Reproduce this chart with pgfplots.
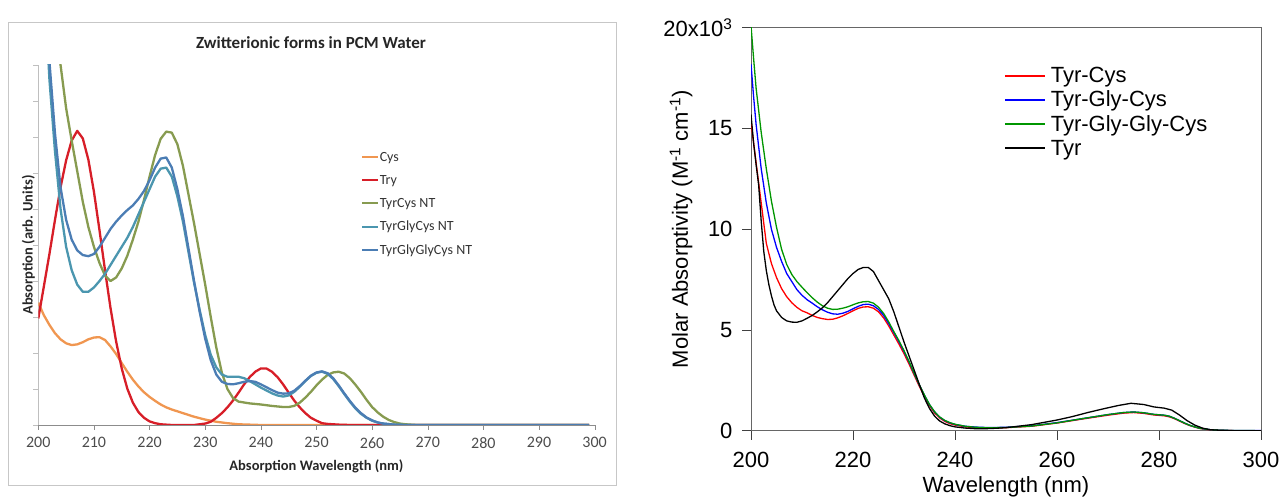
\documentclass[border=0pt]{standalone}
\usepackage{pgfplots}
\pgfplotsset{compat=1.18}
\usepackage{fontspec}
\setmainfont{Liberation Sans}
\newfontfamily\calibri{Carlito}
\definecolor{cysC}{RGB}{240,150,80}
\definecolor{tryC}{RGB}{215,30,40}
\definecolor{tyrcysC}{RGB}{135,155,80}
\definecolor{tgcC}{RGB}{75,150,175}
\definecolor{tggcC}{RGB}{75,125,180}
\definecolor{greenR}{RGB}{0,150,0}
\begin{document}
\begin{tikzpicture}[x=1pt,y=1pt]
\path[use as bounding box] (0,0) rectangle (1281,500);
\draw[black!22, line width=1pt] (8,14) rectangle (616,477);
\node[font=\calibri\bfseries\fontsize{17}{17}\selectfont, text=black!85] at (311,457) {Zwitterionic forms in PCM Water};
\begin{axis}[
  at={(38.3pt,75pt)}, anchor=south west, scale only axis,
  width=556.3pt, height=360pt,
  xmin=200, xmax=300, ymin=0, ymax=10,
  axis lines=left, axis line style={-},
  x axis line style={draw=black!45},
  y axis line style={draw=black!25},
  xtick={200,210,...,300}, ytick={0,1,...,10}, yticklabels={},
  tick align=outside, major tick length=5pt,
  x tick style={black!45}, y tick style={black!25},
  /pgf/number format/assume math mode=true,
  xticklabel style={font=\calibri\fontsize{16}{16}\selectfont, text=black!70, yshift=-4pt},
  xlabel={Absorption Wavelength (nm)},
  ylabel={Absorption (arb. Units)},
  xlabel style={at={(axis description cs:0.5,-0.114)}, anchor=center, font=\calibri\bfseries\fontsize{14.5}{14.5}\selectfont, text=black!85},
  ylabel style={at={(axis description cs:-0.018,0.5)}, anchor=center, font=\calibri\bfseries\fontsize{14.5}{14.5}\selectfont, text=black!85},
  legend cell align=left,
  legend image code/.code={\fill[#1, draw=none] (0pt,-1pt) rectangle (16pt,1pt);},
  legend style={at={(rel axis cs:0.582,0.763)}, anchor=north west, draw=none, fill=none,
    font=\calibri\fontsize{14}{14}\selectfont, text=black!80, row sep=9.5pt,
    inner sep=0pt, nodes={inner sep=1.5pt}},
  every axis plot/.append style={line width=2.3pt, line join=round},
]
\addplot[cysC] coordinates {(200,3.4)(201,3.05)(202,2.78)(203,2.55)(204,2.38)(205,2.27)(206,2.22)(207,2.24)(208,2.3)(209,2.38)(210,2.43)(211,2.44)(212,2.36)(213,2.18)(214,1.97)(215,1.72)(216,1.48)(217,1.26)(218,1.07)(219,0.91)(220,0.78)(221,0.67)(222,0.57)(223,0.49)(224,0.43)(225,0.38)(226,0.33)(227,0.28)(228,0.23)(229,0.19)(230,0.15)(232,0.09)(234,0.05)(236,0.02)(238,0.01)(240,0)(299,0)};
\addlegendentry{Cys}
\addplot[tryC] coordinates {(200,2.96)(201,3.85)(202,4.75)(203,5.7)(204,6.6)(205,7.35)(206,7.9)(207,8.17)(208,7.96)(209,7.37)(210,6.48)(211,5.41)(212,4.29)(213,3.23)(214,2.31)(215,1.57)(216,1.01)(217,0.62)(218,0.36)(219,0.2)(220,0.1)(221,0.05)(222,0.02)(224,0)(228,0)(229,0.02)(230,0.04)(231,0.09)(232,0.2)(233,0.33)(234,0.49)(235,0.68)(236,0.9)(237,1.13)(238,1.33)(239,1.48)(240,1.57)(241,1.57)(242,1.48)(243,1.33)(244,1.13)(245,0.9)(246,0.68)(247,0.49)(248,0.33)(249,0.2)(250,0.12)(251,0.05)(252,0.03)(254,0.01)(256,0)(299,0)};
\addlegendentry{Try}
\addplot[tyrcysC] coordinates {(200,16)(202,12.4)(203,11.0)(204,10.0)(205,8.8)(206,7.9)(207,7.05)(208,6.2)(209,5.5)(210,4.95)(211,4.5)(212,4.15)(213,4.0)(214,4.1)(215,4.35)(216,4.7)(217,5.15)(218,5.65)(219,6.25)(220,6.9)(221,7.5)(222,7.95)(223,8.15)(224,8.12)(225,7.8)(226,7.2)(227,6.4)(228,5.6)(229,4.75)(230,3.9)(231,3.0)(232,2.15)(233,1.45)(234,1.0)(235,0.75)(236,0.65)(238,0.6)(240,0.57)(242,0.53)(244,0.5)(245,0.5)(246,0.53)(247,0.62)(248,0.76)(249,0.92)(250,1.1)(251,1.26)(252,1.39)(253,1.46)(254,1.48)(255,1.43)(256,1.3)(257,1.12)(258,0.92)(259,0.7)(260,0.5)(261,0.35)(262,0.23)(263,0.14)(264,0.08)(265,0.04)(266,0.02)(268,0)(299,0)};
\addlegendentry{TyrCys NT}
\addplot[tgcC] coordinates {(200,16)(201,12.5)(202,9.6)(203,7.6)(204,6.0)(205,4.95)(206,4.3)(207,3.9)(208,3.7)(209,3.7)(210,3.82)(211,4.0)(212,4.2)(213,4.45)(214,4.7)(215,4.95)(216,5.2)(217,5.5)(218,5.85)(219,6.2)(220,6.55)(221,6.9)(222,7.12)(223,7.15)(224,6.9)(225,6.35)(226,5.65)(227,4.8)(228,3.95)(229,3.2)(230,2.5)(231,1.95)(232,1.6)(233,1.4)(234,1.34)(235,1.34)(236,1.34)(237,1.3)(238,1.22)(239,1.13)(240,1.04)(241,0.96)(242,0.88)(243,0.82)(244,0.79)(245,0.82)(246,0.92)(247,1.06)(248,1.22)(249,1.36)(250,1.45)(251,1.48)(252,1.42)(253,1.28)(254,1.08)(255,0.86)(256,0.65)(257,0.46)(258,0.31)(259,0.2)(260,0.12)(261,0.07)(262,0.04)(264,0.01)(266,0)(299,0)};
\addlegendentry{TyrGlyCys NT}
\addplot[tggcC] coordinates {(200,16)(201,12.8)(202,10.1)(203,8.1)(204,6.6)(205,5.7)(206,5.15)(207,4.85)(208,4.72)(209,4.69)(210,4.75)(211,4.95)(212,5.2)(213,5.45)(214,5.65)(215,5.82)(216,5.97)(217,6.1)(218,6.28)(219,6.5)(220,6.8)(221,7.15)(222,7.4)(223,7.43)(224,7.15)(225,6.55)(226,5.8)(227,4.9)(228,4.0)(229,3.15)(230,2.4)(231,1.8)(232,1.4)(233,1.2)(234,1.14)(235,1.13)(236,1.16)(237,1.2)(238,1.22)(239,1.2)(240,1.13)(241,1.05)(242,0.97)(243,0.9)(244,0.87)(245,0.88)(246,0.95)(247,1.08)(248,1.23)(249,1.37)(250,1.46)(251,1.49)(252,1.44)(253,1.3)(254,1.1)(255,0.88)(256,0.67)(257,0.48)(258,0.33)(259,0.21)(260,0.13)(261,0.07)(262,0.04)(264,0.01)(266,0)(299,0)};
\addlegendentry{TyrGlyGlyCys NT}
\end{axis}
\begin{axis}[
  at={(751pt,69.3pt)}, anchor=south west, scale only axis,
  width=510pt, height=403pt,
  xmin=200, xmax=300, ymin=0, ymax=20,
  axis line style={black!60},
  xtick={200,220,...,300}, ytick={0,5,10,15,20},
  yticklabels={0,5,10,15,{20x10\textsuperscript{3}}},
  tick align=outside, tick pos=left, major tick length=9pt,
  tick style={black!75, line width=0.8pt},
  /pgf/number format/assume math mode=true,
  ticklabel style={font=\fontsize{22}{22}\selectfont},
  xticklabel style={yshift=-9pt},
  yticklabel style={xshift=-6pt},
  xlabel={Wavelength (nm)},
  ylabel={Molar Absorptivity (M\textsuperscript{-1} cm\textsuperscript{-1})},
  xlabel style={at={(axis description cs:0.5,-0.139)}, anchor=center, font=\fontsize{22}{22}\selectfont},
  ylabel style={at={(axis description cs:-0.137,0.5)}, anchor=center, font=\fontsize{22}{22}\selectfont},
  legend cell align=left,
  legend image code/.code={\fill[#1, draw=none] (0pt,-1.1pt) rectangle (40pt,1.1pt); \path (44pt,0pt);},
  legend style={at={(rel axis cs:0.498,0.905)}, anchor=north west, draw=none, fill=none,
    font=\fontsize{22}{22}\selectfont, row sep=5pt,
    inner sep=0pt, nodes={inner sep=1pt}},
  every axis plot/.append style={line width=1.3pt, line join=round},
]
\addplot[red] coordinates {(200,15.3)(200.5,14.3)(201,13.3)(202,11.3)(203,9.3)(204,8.3)(205,7.6)(206,7.05)(207,6.65)(208,6.35)(209,6.12)(210,5.95)(211,5.85)(212,5.72)(213,5.62)(214,5.56)(215,5.52)(216,5.53)(217,5.6)(218,5.7)(219,5.82)(220,5.95)(221,6.07)(222,6.14)(223,6.15)(224,6.08)(225,5.9)(226,5.6)(227,5.2)(228,4.75)(229,4.3)(230,3.82)(231,3.3)(232,2.75)(233,2.2)(234,1.7)(235,1.24)(236,0.88)(237,0.63)(238,0.46)(239,0.35)(240,0.28)(242,0.19)(244,0.15)(246,0.13)(248,0.13)(250,0.15)(255,0.22)(260,0.38)(265,0.58)(270,0.77)(273,0.87)(275,0.9)(277,0.86)(279,0.78)(281,0.74)(282,0.69)(283,0.6)(284,0.48)(285,0.36)(286,0.26)(287,0.18)(288,0.11)(290,0.04)(292,0.01)(295,0)(300,0)};
\addlegendentry{Tyr-Cys}
\addplot[blue] coordinates {(200,18.2)(200.5,16.6)(201,15.2)(202,13.0)(203,11.3)(204,10.0)(205,9.1)(206,8.4)(207,7.8)(208,7.4)(209,7.0)(210,6.72)(211,6.5)(212,6.33)(213,6.15)(214,6.0)(215,5.88)(216,5.8)(217,5.78)(218,5.83)(219,5.92)(220,6.05)(221,6.17)(222,6.26)(223,6.28)(224,6.2)(225,6.02)(226,5.72)(227,5.32)(228,4.87)(229,4.42)(230,3.93)(231,3.4)(232,2.83)(233,2.27)(234,1.76)(235,1.29)(236,0.93)(237,0.67)(238,0.5)(239,0.39)(240,0.31)(242,0.22)(244,0.18)(246,0.16)(248,0.16)(250,0.17)(255,0.24)(260,0.4)(265,0.6)(270,0.8)(273,0.9)(275,0.93)(277,0.89)(279,0.81)(281,0.77)(282,0.72)(283,0.62)(284,0.5)(285,0.38)(286,0.27)(287,0.19)(288,0.12)(290,0.05)(292,0.02)(295,0.01)(300,0.01)};
\addlegendentry{Tyr-Gly-Cys}
\addplot[greenR] coordinates {(200,20.1)(200.5,18.5)(201,17.0)(202,14.8)(203,13.0)(204,11.4)(205,10.1)(206,9.0)(207,8.25)(208,7.75)(209,7.4)(210,7.12)(211,6.85)(212,6.6)(213,6.38)(214,6.2)(215,6.08)(216,6.02)(217,6.03)(218,6.08)(219,6.15)(220,6.25)(221,6.34)(222,6.4)(223,6.41)(224,6.33)(225,6.13)(226,5.82)(227,5.4)(228,4.92)(229,4.47)(230,3.97)(231,3.43)(232,2.85)(233,2.28)(234,1.77)(235,1.3)(236,0.94)(237,0.68)(238,0.51)(239,0.4)(240,0.32)(242,0.22)(244,0.17)(246,0.15)(248,0.15)(250,0.16)(255,0.23)(260,0.39)(265,0.6)(270,0.8)(273,0.9)(275,0.93)(277,0.89)(279,0.81)(281,0.77)(282,0.72)(283,0.62)(284,0.5)(285,0.38)(286,0.27)(287,0.19)(288,0.12)(290,0.05)(292,0.02)(295,0.01)(300,0)};
\addlegendentry{Tyr-Gly-Gly-Cys}
\addplot[black] coordinates {(200,15.7)(200.5,14.3)(201,13.2)(201.5,12.2)(202,10.4)(202.5,8.9)(203,7.95)(203.5,7.25)(204,6.7)(204.5,6.25)(205,5.95)(206,5.62)(207,5.45)(208,5.39)(209,5.38)(210,5.45)(211,5.58)(212,5.72)(213,5.9)(214,6.1)(215,6.35)(216,6.65)(217,6.95)(218,7.25)(219,7.55)(220,7.8)(221,8.0)(222,8.1)(223,8.1)(224,7.9)(225,7.45)(226,7.0)(227,6.55)(228,5.9)(229,5.15)(230,4.4)(231,3.7)(232,3.0)(233,2.3)(234,1.62)(235,1.1)(236,0.72)(237,0.48)(238,0.34)(239,0.25)(240,0.19)(242,0.13)(244,0.1)(246,0.1)(248,0.12)(250,0.15)(255,0.3)(260,0.53)(263,0.7)(266,0.9)(269,1.08)(272,1.25)(274.5,1.36)(277,1.3)(279,1.18)(281,1.12)(282.5,1.02)(284,0.78)(285.5,0.5)(287,0.28)(288.5,0.13)(290,0.05)(292,0.02)(295,0)(300,0)};
\addlegendentry{Tyr}
\end{axis}
\end{tikzpicture}
\end{document}
